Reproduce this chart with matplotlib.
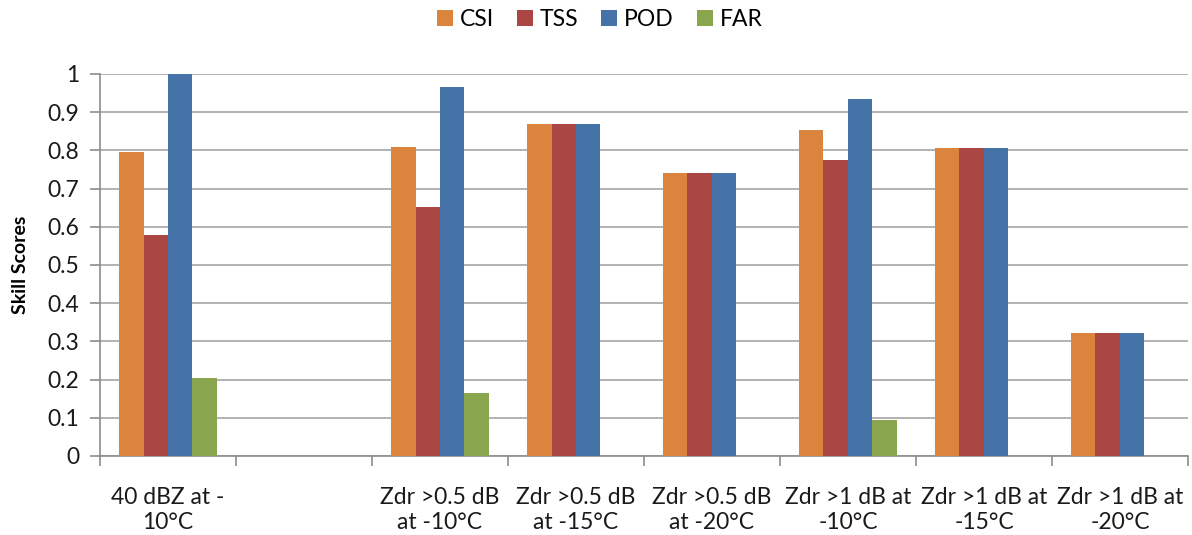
import numpy as np
import matplotlib.pyplot as plt
from matplotlib.patches import Patch

plt.rcParams['font.family'] = ['Lato', 'DejaVu Sans']

# skill scores per predictor / threshold
categories = ['40 dBZ at -\n10°C', '', 'Zdr >0.5 dB\nat -10°C', 'Zdr >0.5 dB\nat -15°C',
              'Zdr >0.5 dB\nat -20°C', 'Zdr >1 dB at\n-10°C', 'Zdr >1 dB at\n-15°C',
              'Zdr >1 dB at\n-20°C']
csi = [0.795, 0, 0.809, 0.869, 0.742, 0.853, 0.806, 0.322]
tss = [0.578, 0, 0.652, 0.869, 0.742, 0.776, 0.806, 0.322]
pod = [1.0, 0, 0.967, 0.869, 0.742, 0.934, 0.806, 0.322]
far = [0.205, 0, 0.165, 0, 0, 0.094, 0, 0]

series = [('CSI', csi, '#DB843D'), ('TSS', tss, '#AA4643'),
          ('POD', pod, '#4572A7'), ('FAR', far, '#89A54E')]

fig = plt.figure(figsize=(11.92, 5.35), dpi=100)
ax = fig.add_axes([0.0839, 0.1477, 0.9127, 0.714])

x = np.arange(len(categories))
w = 0.18
for i, (name, vals, col) in enumerate(series):
    ax.bar(x + (i - 1.5) * w, vals, width=w, color=col, edgecolor='none', zorder=3)

ax.set_xlim(-0.5, len(categories) - 0.5)
ax.set_ylim(0, 1)
ax.set_yticks(np.arange(0, 1.01, 0.1))
ax.set_yticklabels(['0'] + ['%.1f' % v for v in np.arange(0.1, 0.95, 0.1)] + ['1'])
ax.yaxis.grid(True, color='#A6A6A6', linewidth=1.2, zorder=0)

ax.set_xticks(x)
ax.set_xticklabels(categories, fontsize=16.5, color='#1a1a1a', linespacing=1.25)
ax.set_xticks(np.arange(-0.5, len(categories), 1), minor=True)
ax.tick_params(axis='x', which='major', length=0, pad=22)
ax.tick_params(axis='x', which='minor', length=7, color='#8c8c8c', width=1.2)
ax.tick_params(axis='y', length=7, color='#8c8c8c', width=1.2, labelsize=16.5,
               labelcolor='#1a1a1a', pad=8)

for s in ['top', 'right']:
    ax.spines[s].set_visible(False)
for s in ['left', 'bottom']:
    ax.spines[s].set_color('#8c8c8c')
    ax.spines[s].set_linewidth(1.2)

ax.set_ylabel('Skill Scores', fontsize=14, fontweight='bold', labelpad=13)

handles = [Patch(facecolor=c, edgecolor='none') for _, _, c in series]
fig.legend(handles, [n for n, _, _ in series], loc='upper center',
           bbox_to_anchor=(0.503, 1.022), ncol=4, frameon=False, fontsize=16.5,
           handlelength=0.7, handleheight=0.7, handletextpad=0.3, columnspacing=1.0)

fig.savefig('out.png', dpi=100)
